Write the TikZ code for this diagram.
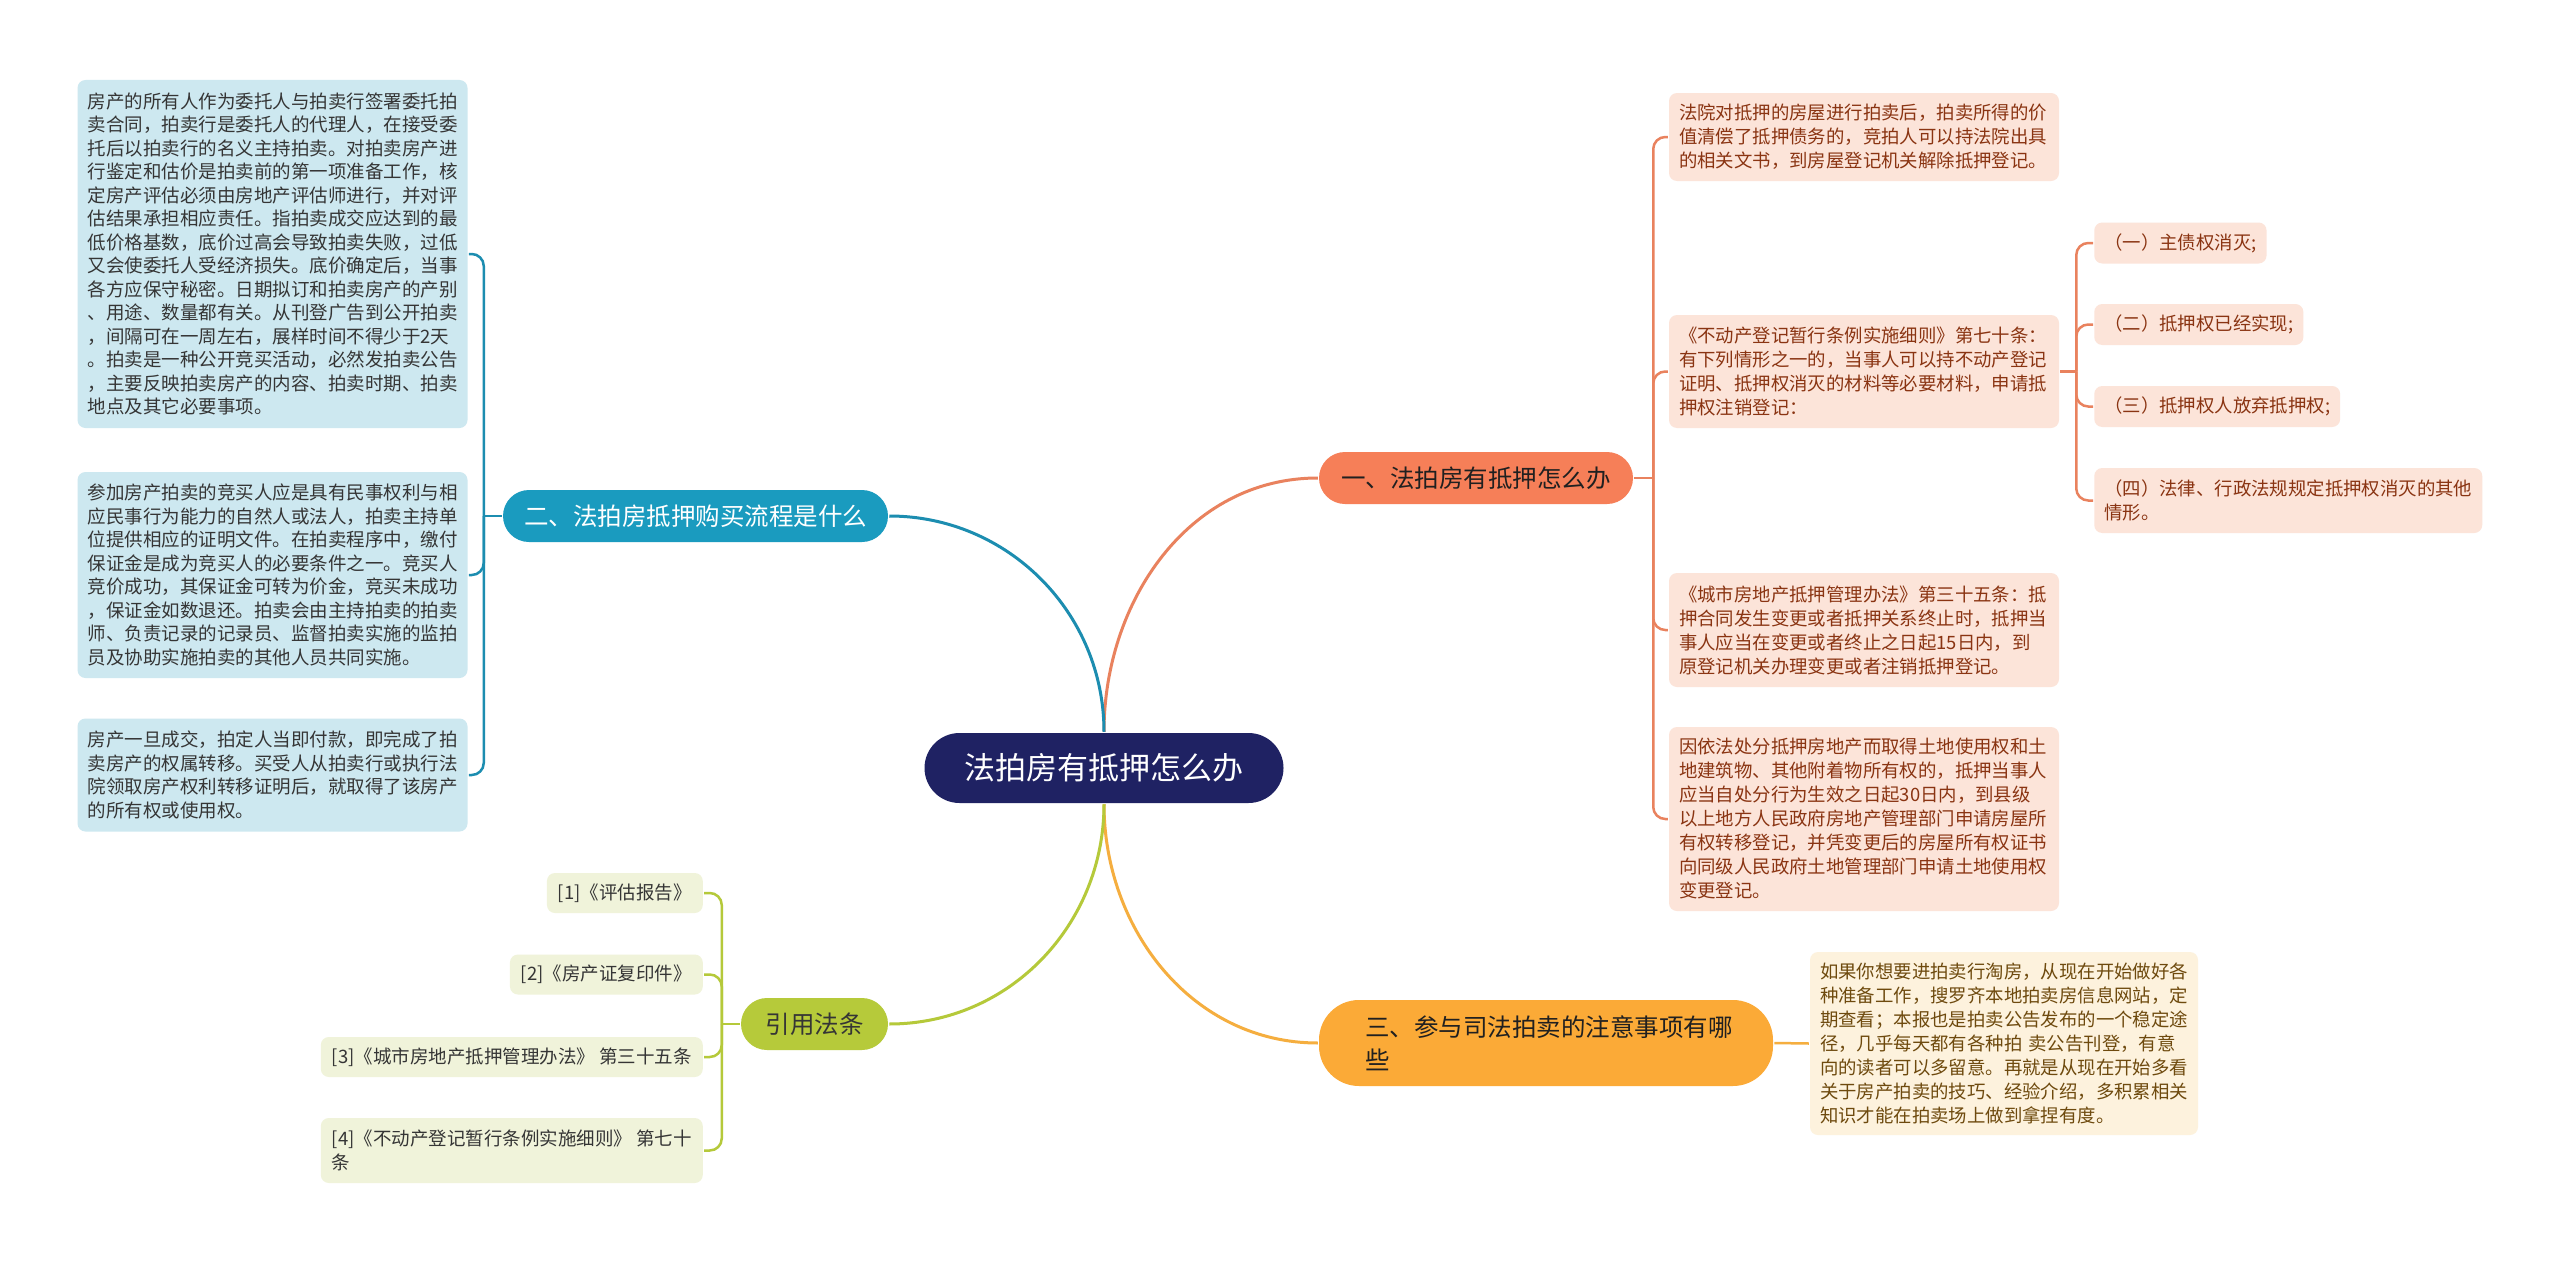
\documentclass[tikz,border=0pt]{standalone}
\usepackage{fontspec}
\setmainfont{Noto Sans CJK SC}
\definecolor{rootblue}{HTML}{1F2263}
\definecolor{topicorange}{HTML}{F67F58}
\definecolor{topicteal}{HTML}{1A9BBF}
\definecolor{topicyellow}{HTML}{FBAA37}
\definecolor{topicgreen}{HTML}{B6CA3A}
\definecolor{lineorange}{HTML}{E9825E}
\definecolor{lineteal}{HTML}{1C8DB0}
\definecolor{lineyellow}{HTML}{F5AE3F}
\definecolor{linegreen}{HTML}{B5C93A}
\definecolor{leafblue}{HTML}{CDE8F0}
\definecolor{leafpeach}{HTML}{FCE4D9}
\definecolor{leafcream}{HTML}{FDF2DD}
\definecolor{leafgreen}{HTML}{F0F3DA}
\definecolor{inkgray}{HTML}{353535}
\definecolor{inkbrown}{HTML}{8A3412}
\definecolor{inkolive}{HTML}{6E4A0E}
\begin{document}
\begin{tikzpicture}[x=1pt,y=-1pt,line width=2.5pt]
  \tikzstyle{root}=[fill=rootblue, text=white, rounded corners=35pt, minimum width=359pt,
    minimum height=70pt, font=\fontsize{31pt}{36pt}\selectfont]
  \tikzstyle{topic}=[rounded corners=26pt, minimum height=52pt, font=\fontsize{24.5pt}{33pt}\selectfont]
  \tikzstyle{leafL}=[fill=leafblue, text=inkgray, rounded corners=8pt, text width=370pt, inner xsep=10pt,
    align=left, font=\fontsize{18.5pt}{23.5pt}\selectfont]
  \tikzstyle{leafR}=[fill=leafpeach, text=inkbrown, rounded corners=8pt, text width=370pt, inner xsep=10pt,
    align=left, font=\fontsize{18.4pt}{24pt}\selectfont]
  \tikzstyle{subleaf}=[fill=leafpeach, text=inkbrown, rounded corners=8pt, inner xsep=10pt, anchor=west,
    minimum height=41pt, align=left, font=\fontsize{18.4pt}{24pt}\selectfont]
  \tikzstyle{cite}=[fill=leafgreen, text=inkgray, rounded corners=8pt, inner xsep=11pt, anchor=east,
    minimum height=40pt, align=left, font=\fontsize{18.5pt}{24pt}\selectfont]
  \tikzstyle{link}=[rounded corners=12pt]

  \fill[white] (0,0) rectangle (2560,1263);
  \useasboundingbox (0,0) rectangle (2560,1263);

  \node[root] (root) at (1104,768) {法拍房有抵押怎么办};

  \node[topic, fill=topicorange, text=inkgray!60!black, minimum width=314pt] (mortgage) at (1476,478) {一、法拍房有抵押怎么办};
  \node[topic, fill=topicteal, text=white, minimum width=385pt] (process) at (695.5,516) {二、法拍房抵押购买流程是什么};
  \node[topic, fill=topicyellow, text=inkgray!60!black, rounded corners=40pt, minimum height=86pt,
    text width=362pt, inner xsep=46pt, align=left] (notice) at (1546,1043) {三、参与司法拍卖的注意事项有哪\\些};
  \node[topic, fill=topicgreen, text=inkgray, minimum width=147pt] (laws) at (814.5,1024) {引用法条};

  % left leaves
  \node[leafL, minimum height=348pt] (entrust) at (272.5,254) {房产的所有人作为委托人与拍卖行签署委托拍\\卖合同，拍卖行是委托人的代理人，在接受委\\托后以拍卖行的名义主持拍卖。对拍卖房产进\\行鉴定和估价是拍卖前的第一项准备工作，核\\定房产评估必须由房地产评估师进行，并对评\\估结果承担相应责任。指拍卖成交应达到的最\\低价格基数，底价过高会导致拍卖失败，过低\\又会使委托人受经济损失。底价确定后，当事\\各方应保守秘密。日期拟订和拍卖房产的产别\\、用途、数量都有关。从刊登广告到公开拍卖\\，间隔可在一周左右，展样时间不得少于2天\\。拍卖是一种公开竞买活动，必然发拍卖公告\\，主要反映拍卖房产的内容、拍卖时期、拍卖\\地点及其它必要事项。};
  \node[leafL, minimum height=206pt] (bidder) at (272.5,575) {参加房产拍卖的竞买人应是具有民事权利与相\\应民事行为能力的自然人或法人，拍卖主持单\\位提供相应的证明文件。在拍卖程序中，缴付\\保证金是成为竞买人的必要条件之一。竞买人\\竞价成功，其保证金可转为价金，竞买未成功\\，保证金如数退还。拍卖会由主持拍卖的拍卖\\师、负责记录的记录员、监督拍卖实施的监拍\\员及协助实施拍卖的其他人员共同实施。};
  \node[leafL, minimum height=113pt] (transfer) at (272.5,775) {房产一旦成交，拍定人当即付款，即完成了拍\\卖房产的权属转移。买受人从拍卖行或执行法\\院领取房产权利转移证明后，就取得了该房产\\的所有权或使用权。};

  % right leaves
  \node[leafR, minimum height=88pt] (court) at (1864,137) {法院对抵押的房屋进行拍卖后，拍卖所得的价\\值清偿了抵押债务的，竞拍人可以持法院出具\\的相关文书，到房屋登记机关解除抵押登记。};
  \node[leafR, minimum height=113pt] (rules) at (1864,371.5) {《不动产登记暂行条例实施细则》第七十条：\\有下列情形之一的，当事人可以持不动产登记\\证明、抵押权消灭的材料等必要材料，申请抵\\押权注销登记：};
  \node[leafR, minimum height=114pt] (urban) at (1864,630) {《城市房地产抵押管理办法》第三十五条：抵\\押合同发生变更或者抵押关系终止时，抵押当\\事人应当在变更或者终止之日起15日内，到\\原登记机关办理变更或者注销抵押登记。};
  \node[leafR, minimum height=184pt] (land) at (1864,819) {因依法处分抵押房地产而取得土地使用权和土\\地建筑物、其他附着物所有权的，抵押当事人\\应当自处分行为生效之日起30日内，到县级\\以上地方人民政府房地产管理部门申请房屋所\\有权转移登记，并凭变更后的房屋所有权证书\\向同级人民政府土地管理部门申请土地使用权\\变更登记。};

  \node[subleaf] (caseA) at (2093,243) {（一）主债权消灭;};
  \node[subleaf] (caseB) at (2093,324.5) {（二）抵押权已经实现;};
  \node[subleaf] (caseC) at (2093,406.5) {（三）抵押权人放弃抵押权;};
  \node[subleaf, minimum height=65pt] (caseD) at (2093,500.5) {（四）法律、行政法规规定抵押权消灭的其他\\情形。};

  \node[leafR, fill=leafcream, text=inkolive, text width=368pt, minimum height=183pt] (tips) at (2004,1043.5) {如果你想要进拍卖行淘房，从现在开始做好各\\种准备工作，搜罗齐本地拍卖房信息网站，定\\期查看；本报也是拍卖公告发布的一个稳定途\\径，几乎每天都有各种拍 卖公告刊登，有意\\向的读者可以多留意。再就是从现在开始多看\\关于房产拍卖的技巧、经验介绍，多积累相关\\知识才能在拍卖场上做到拿捏有度。};

  % citations
  \node[cite] (citeA) at (704,893) {[1]《评估报告》};
  \node[cite] (citeB) at (704,974.5) {[2]《房产证复印件》};
  \node[cite] (citeC) at (704,1057) {[3]《城市房地产抵押管理办法》 第三十五条};
  \node[cite, minimum height=65pt] (citeD) at (704,1150.5) {[4]《不动产登记暂行条例实施细则》 第七十\\条};

  % main branches
  \draw[lineorange, line width=3pt] (root.north) to[out=90,in=180] (mortgage.west);
  \draw[lineteal, line width=3pt] (root.north) to[out=90,in=0] (process.east);
  \draw[lineyellow, line width=3pt] (root.south) to[out=-90,in=180] (notice.west);
  \draw[linegreen, line width=3pt] (root.south) to[out=-90,in=0] (laws.east);

  % sub branches
  \draw[lineorange] (mortgage.east) -- ++(19,0) coordinate (spineA);
  \foreach \n in {court,rules,urban,land}
    \draw[lineorange, link] (spineA) |- (\n.west);
  \draw[lineorange] (rules.east) -- ++(16,0) coordinate (spineB);
  \foreach \n in {caseA,caseB,caseC,caseD}
    \draw[lineorange, link] (spineB) |- (\n.west);
  \draw[lineteal] (process.west) -- ++(-18,0) coordinate (spineC);
  \foreach \n in {entrust,bidder,transfer}
    \draw[lineteal, link] (spineC) |- (\n.east);
  \draw[linegreen] (laws.west) -- ++(-18,0) coordinate (spineD);
  \foreach \n in {citeA,citeB,citeC,citeD}
    \draw[linegreen, link] (spineD) |- (\n.east);
  \draw[lineyellow] (notice.east) -- (tips.west);
\end{tikzpicture}
\end{document}
